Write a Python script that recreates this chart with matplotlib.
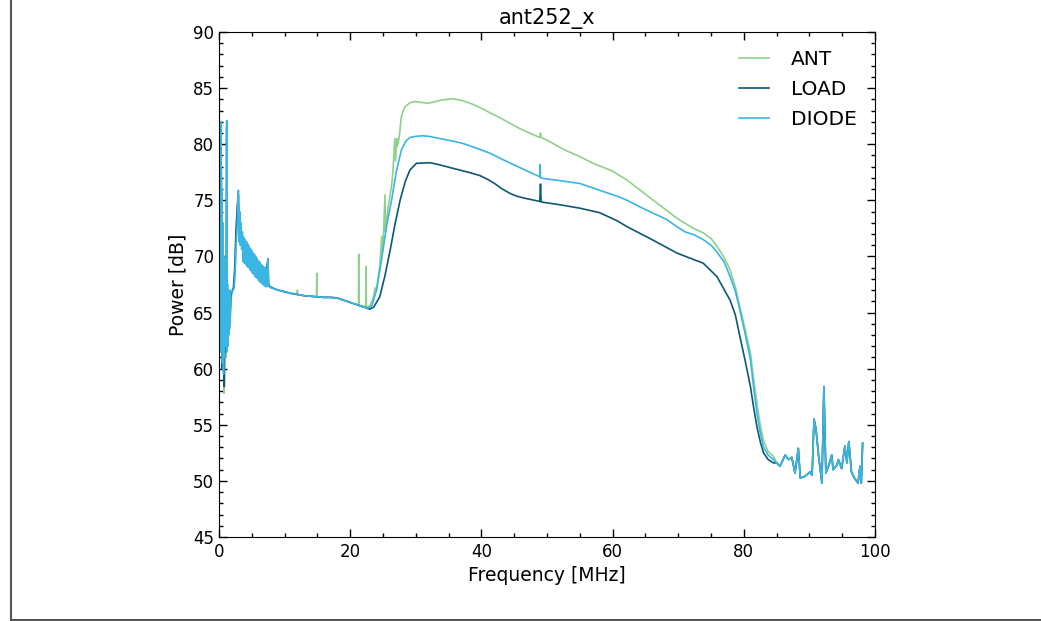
import matplotlib
matplotlib.use('Agg')
import numpy as np
from matplotlib import pyplot as plt
from matplotlib.lines import Line2D
from matplotlib.ticker import MultipleLocator

title = 'ant252_x'
labels = ['ANT', 'LOAD', 'DIODE']
colors = ['#8fd18a', '#0d5874', '#3ab5e4']

# ---- low band 0 - 8.5 MHz (noisy) ----
f_low_ant = [0.05, 0.2, 0.35, 0.5, 0.65, 0.76, 0.9, 1.05, 1.17, 1.3, 1.5, 1.7, 1.9, 2.1, 2.3,
             2.5, 2.7, 2.85, 3.0, 3.2, 3.4, 3.7, 4.2, 4.7, 5.2, 5.7, 6.2, 6.7, 7.2, 7.45,
             7.55, 7.8, 8.5]
p_low_ant = [78.0, 63.0, 76.0, 61.0, 68.0, 57.8, 65.0, 61.0, 80.5, 62.5, 66.0, 64.0, 66.5, 67.0, 67.3,
             69.5, 73.0, 75.3, 72.5, 73.3, 71.5, 70.6, 70.1, 69.7, 69.3, 68.9, 68.6, 68.3, 68.0, 69.5,
             67.4, 67.2, 67.1]

f_low_load = [0.05, 0.2, 0.35, 0.5, 0.65, 0.8, 0.95, 1.1, 1.17, 1.25, 1.4, 1.6, 1.8, 2.0, 2.2,
              2.4, 2.6, 2.8, 2.95, 3.1, 3.3, 3.5, 3.7, 4.2, 4.7, 5.2, 5.7, 6.2, 6.7, 7.2,
              7.45, 7.55, 7.8, 8.5]
p_low_load = [80.0, 62.0, 78.0, 60.0, 70.0, 58.4, 66.0, 61.5, 81.5, 62.0, 66.0, 63.5, 66.6, 66.9, 67.2,
              69.0, 72.5, 74.5, 75.5, 72.0, 72.5, 71.0, 70.3, 70.0, 69.7, 69.4, 69.1, 68.8, 68.6, 68.4,
              69.8, 67.5, 67.3, 67.1]

f_low_diode = [0.02, 0.08, 0.15, 0.22, 0.3, 0.38, 0.45, 0.52, 0.6, 0.68, 0.75, 0.82, 0.9, 0.97,
               1.05, 1.12, 1.17, 1.22, 1.3, 1.38, 1.45, 1.52, 1.6, 1.68, 1.75, 1.85, 2.0, 2.15,
               2.3, 2.45, 2.6, 2.75, 2.85, 2.95, 3.05, 3.15, 3.25, 3.35, 3.45, 3.55,
               3.6, 3.7, 3.8, 3.9, 4.0, 4.1, 4.2, 4.3, 4.4, 4.5, 4.6, 4.7, 4.8, 4.9, 5.0, 5.1,
               5.2, 5.3, 5.4, 5.5, 5.6, 5.7, 5.8, 5.9, 6.0, 6.1, 6.2, 6.3, 6.4, 6.5, 6.6, 6.7,
               6.8, 6.9, 7.0, 7.1, 7.2, 7.3, 7.45, 7.55, 7.7, 8.0, 8.5]
p_low_diode = [87.0, 63.0, 82.0, 61.5, 82.0, 62.0, 76.0, 60.5, 73.0, 59.5, 70.0, 61.0, 68.0, 62.0,
               66.0, 63.0, 82.1, 61.5, 67.5, 62.0, 67.0, 63.0, 66.5, 64.0, 67.0, 66.8, 66.9, 67.0,
               67.2, 68.5, 71.0, 72.5, 74.0, 75.9, 71.3, 74.0, 71.0, 73.0, 70.6, 72.2,
               71.9, 69.5, 71.7, 69.4, 71.5, 69.3, 71.3, 69.1, 71.1, 69.0, 70.9, 68.8, 70.7, 68.7, 70.5, 68.5,
               70.3, 68.4, 70.2, 68.2, 70.0, 68.1, 69.8, 68.0, 69.6, 67.8, 69.5, 67.7, 69.3, 67.6, 69.2, 67.5,
               69.1, 67.4, 69.0, 67.3, 68.9, 67.3, 69.8, 67.4, 67.3, 67.2, 67.1]

# ---- mid band 9 - 84.5 MHz (smooth part) ----
f_mid_ant = [9, 10, 11, 11.9, 11.95, 12.0, 13, 14, 14.85, 14.9, 14.95, 16, 17, 18, 19, 20, 21,
             21.25, 21.3, 21.35, 22.0, 22.35, 22.4, 22.45, 23.0, 23.5, 23.8, 24.0, 24.3, 24.5,
             24.8, 24.85, 25.0, 25.3, 25.35, 25.5, 25.8, 26.0, 26.3, 26.5, 26.8, 26.9, 27.1,
             27.2, 27.5, 27.8, 28.3, 29.1, 29.9, 30.5, 31.9, 33, 34, 35.7, 37, 38.5, 40, 41.3,
             43, 44.4, 46, 47.5, 48.9, 49.0, 49.1, 50.5, 52, 53, 55, 57, 60, 62.2, 64.2, 66, 68, 69.8,
             72, 73.8, 75, 75.9, 77, 77.9, 78.7, 79.4, 80.2, 81, 81.5, 82, 82.5, 83, 83.7, 84.5]
p_mid_ant = [67.0, 66.85, 66.7, 66.65, 67.0, 66.6, 66.5, 66.45, 66.4, 68.5, 66.4, 66.35, 66.35, 66.3, 66.1, 65.9, 65.7,
             65.65, 70.2, 65.65, 65.55, 65.5, 69.1, 65.5, 65.6, 66.3, 67.2, 67.0, 68.3, 69.2,
             71.8, 70.2, 71.0, 75.5, 72.2, 73.0, 74.5, 75.2, 76.3, 77.5, 80.5, 78.5, 80.5,
             79.8, 80.8, 82.5, 83.3, 83.7, 83.8, 83.75, 83.65, 83.8, 83.95, 84.05, 83.9, 83.6, 83.2, 82.8,
             82.3, 81.85, 81.35, 80.95, 80.6, 81.0, 80.6, 80.2, 79.7, 79.4, 78.9, 78.3, 77.6, 76.8, 75.9, 75.1, 74.2, 73.4,
             72.6, 72.1, 71.6, 70.9, 69.9, 68.8, 67.3, 65.5, 63.5, 61.4, 59.0, 56.9, 55.0, 53.6, 52.6, 52.2]

f_mid_load = [9, 10, 11, 12, 13, 14, 15, 16, 17, 18, 19, 20, 21, 22, 23.0, 23.6, 24.5, 25.3,
              26.1, 26.8, 27.6, 28.4, 29.1, 30.1, 32.2, 33.7, 36, 38, 39.8, 41, 42, 43.2, 44.4,
              45.5, 46.5, 47.7, 48.9, 49.0, 49.1, 52, 55, 58, 60.6, 62.2, 66, 69.8, 72, 73.8,
              75.9, 77.9, 78.7, 79.4, 80.2, 81, 81.5, 82, 82.5, 83, 83.7, 84.5]
p_mid_load = [67.0, 66.85, 66.7, 66.6, 66.5, 66.45, 66.4, 66.35, 66.35, 66.3, 66.1, 65.9, 65.7, 65.5, 65.3, 65.5, 66.4, 68.3,
              70.6, 72.8, 75.0, 76.7, 77.7, 78.3, 78.35, 78.15, 77.8, 77.5, 77.2, 76.85, 76.5, 76.0, 75.6,
              75.35, 75.2, 75.05, 74.9, 76.45, 74.85, 74.6, 74.3, 73.9, 73.2, 72.65, 71.5, 70.3, 69.8, 69.4,
              68.2, 66.1, 64.8, 62.85, 60.7, 58.4, 56.5, 54.8, 53.5, 52.5, 51.9, 51.6]

f_mid_diode = [9, 10, 11, 12, 13, 14, 15, 16, 17, 18, 19, 20, 21, 22, 22.7, 23.3, 24.0, 24.5,
               25.0, 25.6, 26.3, 27.0, 27.8, 28.5, 29.1, 30.0, 31.0, 32.0, 33.7, 35, 37, 39, 41.3,
               43, 45, 47, 48.9, 48.95, 49.0, 50, 52, 55, 57, 59, 61, 62.2, 64.2, 66, 68.2, 69.8,
               71, 72.5, 73.8, 75, 75.9, 77, 77.9, 78.7, 79.4, 80.2, 81, 81.5, 82, 82.5, 83, 83.7, 84.5]
p_mid_diode = [67.0, 66.85, 66.7, 66.6, 66.5, 66.45, 66.4, 66.35, 66.35, 66.3, 66.1, 65.9, 65.7, 65.5, 65.4, 65.6, 67.0, 68.7,
               70.6, 72.9, 75.0, 77.5, 79.5, 80.3, 80.6, 80.7, 80.75, 80.7, 80.5, 80.35, 80.1, 79.7, 79.2,
               78.7, 78.15, 77.6, 77.1, 78.2, 77.0, 76.9, 76.75, 76.5, 76.1, 75.7, 75.3, 75.0, 74.4, 73.9, 73.3, 72.65,
               72.2, 71.9, 71.5, 71.0, 70.4, 69.5, 68.2, 66.9, 65.2, 63.1, 60.8, 58.3, 56.0, 54.3, 53.0, 52.3, 51.9]

# ---- high band 85 - 98 MHz (noisy, all three overlap) ----
f_high = [85.0, 85.5, 86.3, 86.8, 87.3, 87.8, 88.3, 88.6, 89.3, 90.1, 90.4, 90.7, 91.0, 91.4,
          91.9, 92.2, 92.5, 92.9, 93.4, 93.6, 94.2, 94.4, 94.9, 95.4, 95.7, 96.0, 96.4, 96.9,
          97.4, 97.7, 97.9, 98.1]
p_high = [51.6, 51.3, 52.3, 51.9, 52.1, 50.7, 52.9, 50.25, 50.4, 50.8, 50.5, 55.5, 54.6, 52.2,
          49.8, 58.4, 50.7, 51.3, 52.3, 51.0, 51.4, 51.9, 51.1, 53.1, 51.6, 53.5, 50.8, 50.2,
          49.8, 51.3, 49.8, 53.35]

series = [
    (f_low_ant + f_mid_ant + f_high, p_low_ant + p_mid_ant + p_high),
    (f_low_load + f_mid_load + f_high, p_low_load + p_mid_load + p_high),
    (f_low_diode + f_mid_diode + f_high, p_low_diode + p_mid_diode + p_high),
]

fig = plt.figure(figsize=(10.41, 6.21), dpi=100)
ax = fig.add_axes([0.2104, 0.1353, 0.6302, 0.8132])

for (f, p), lab, c in zip(series, labels, colors):
    ax.plot(f, p, color=c, lw=1.2, label=lab)

ax.set_xlim(0, 100)
ax.set_ylim(45, 90)
ax.xaxis.set_major_locator(MultipleLocator(20))
ax.xaxis.set_minor_locator(MultipleLocator(5))
ax.yaxis.set_major_locator(MultipleLocator(5))
ax.yaxis.set_minor_locator(MultipleLocator(1))
ax.tick_params(which='both', direction='in', top=True, right=True, labelsize=12)
ax.tick_params(which='major', length=6, width=1)
ax.tick_params(which='minor', length=3, width=1)
ax.tick_params(axis='x', pad=4)

ax.set_title(title, fontsize=15)
ax.set_xlabel('Frequency [MHz]', fontsize=13.5)
ax.set_ylabel('Power [dB]', fontsize=13.5)

ax.legend(loc='upper right', frameon=False, fontsize=14.5, handlelength=1.5,
          handletextpad=1.1, labelspacing=0.55)

# frame around the figure (left and bottom edges)
fig.add_artist(Line2D([0.0106, 0.0106], [0.0, 1.0], color='#555555', lw=1.5, transform=fig.transFigure))
fig.add_artist(Line2D([0.0106, 1.0], [0.0024, 0.0024], color='#555555', lw=1.5, transform=fig.transFigure))

fig.savefig('out.png', dpi=100)
